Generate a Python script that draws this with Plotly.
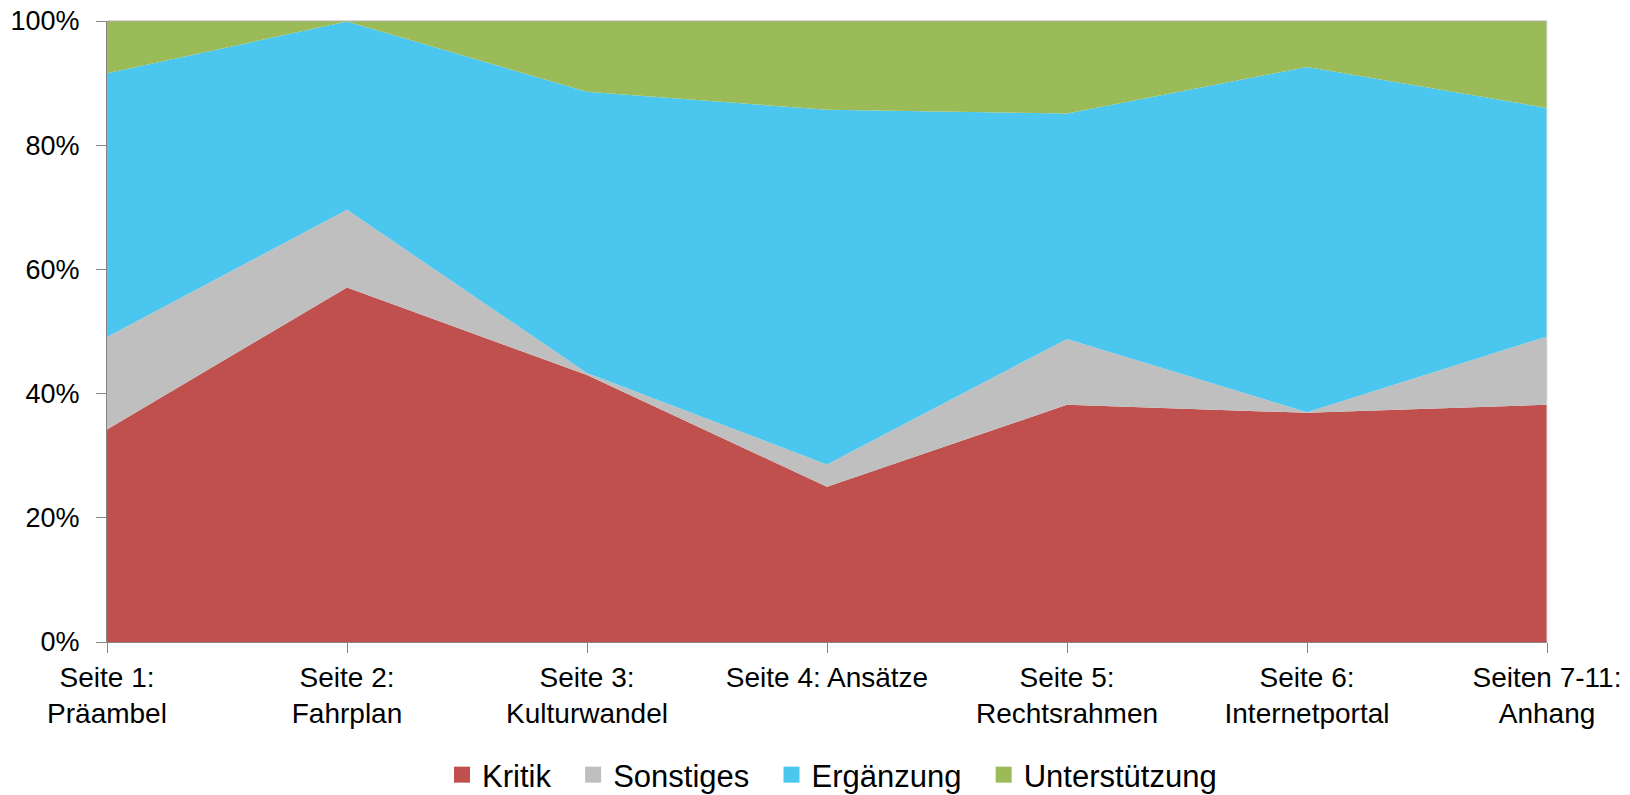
import plotly.graph_objects as go

categories = [
    "Seite 1:<br>Präambel",
    "Seite 2:<br>Fahrplan",
    "Seite 3:<br>Kulturwandel",
    "Seite 4: Ansätze",
    "Seite 5:<br>Rechtsrahmen",
    "Seite 6:<br>Internetportal",
    "Seiten 7-11:<br>Anhang",
]

kritik = [34.2, 57.1, 43.0, 25.0, 38.2, 36.9, 38.2]
sonstiges = [14.9, 12.5, 0.3, 3.6, 10.6, 0.1, 11.0]
ergaenzung = [42.5, 30.3, 45.3, 57.1, 36.3, 55.6, 36.8]
unterstuetzung = [8.4, 0.1, 11.4, 14.3, 14.9, 7.4, 14.0]

series = [
    ("Kritik", kritik, "#C0504D"),
    ("Sonstiges", sonstiges, "#BFBFBF"),
    ("Ergänzung", ergaenzung, "#4BC6EF"),
    ("Unterstützung", unterstuetzung, "#9BBB59"),
]

FONT = "Liberation Sans"
W, H = 1630, 795

fig = go.Figure()
for name, vals, col in series:
    fig.add_trace(go.Scatter(
        x=categories, y=vals, name=name, mode="lines",
        stackgroup="one", groupnorm="percent",
        line=dict(width=0, color=col), fillcolor=col,
        hoverinfo="skip", showlegend=False, legendgroup=name,
    ))
# square legend entries (extra spacing after all but the last)
for i, (name, vals, col) in enumerate(series):
    label = name if i == len(series) - 1 else name + "\u00a0\u00a0"
    fig.add_trace(go.Scatter(
        x=[None], y=[None], name=label, mode="markers",
        marker=dict(symbol="square", size=17, color=col),
        showlegend=True, legendgroup=name, hoverinfo="skip",
    ))

fig.update_layout(
    width=W, height=H,
    margin=dict(l=107, r=83, t=21, b=153),
    paper_bgcolor="white", plot_bgcolor="white",
    font=dict(family=FONT, color="#000000"),
    showlegend=True,
    legend=dict(
        orientation="h", traceorder="normal",
        x=832 / W, xref="container", xanchor="center",
        y=(H - 775) / H, yref="container", yanchor="middle",
        font=dict(family=FONT, size=31, color="#000000"),
        itemwidth=30, tracegroupgap=0,
    ),
    xaxis=dict(
        type="category", range=[0, 6], showgrid=False, zeroline=False,
        showline=True, linecolor="#868686", linewidth=1,
        ticks="outside", ticklen=10, tickcolor="#868686",
        tickfont=dict(family=FONT, size=28, color="#000000"),
        ticklabelstandoff=0, automargin=False, ticklabeloverflow="allow",
    ),
    yaxis=dict(
        range=[0, 100], dtick=20, ticksuffix="%", showgrid=False, zeroline=False,
        showline=True, linecolor="#868686", linewidth=1,
        ticks="outside", ticklen=10, tickcolor="#868686",
        tickfont=dict(family=FONT, size=27, color="#000000"),
        ticklabelstandoff=11, automargin=False, ticklabeloverflow="allow",
    ),
    shapes=[
        dict(type="line", xref="paper", yref="paper", x0=0, x1=1, y0=1, y1=1,
             line=dict(color="#B0B0B0", width=1), layer="above"),
        dict(type="line", xref="paper", yref="paper", x0=1, x1=1, y0=0, y1=1,
             line=dict(color="#E0E0E0", width=1), layer="above"),
    ],
)

fig.write_html(
    "out.html",
    config={"displayModeBar": False, "staticPlot": True},
    post_script="document.body.style.margin='0';document.body.style.overflow='hidden';",
)
